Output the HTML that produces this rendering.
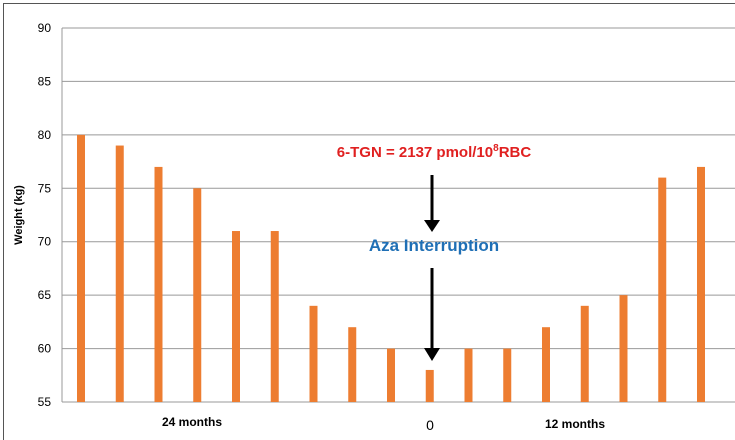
<!DOCTYPE html>
<html><head><meta charset="utf-8"><style>
body{margin:0;background:#fff;}
svg{display:block;font-family:"Liberation Sans",sans-serif;}
</style></head><body>
<svg id="c" width="735" height="440">
<rect x="3.5" y="3.5" width="740" height="440" fill="#fff" stroke="#555" stroke-width="1"/>
<g id="grid"></g><g id="bars"></g>
<text x="22" y="215" transform="rotate(-90 22 215)" text-anchor="middle" font-size="11" font-weight="bold">Weight (kg)</text>
<text x="192" y="426" text-anchor="middle" font-size="12" font-weight="bold">24 months</text>
<text x="430" y="430" text-anchor="middle" font-size="14">0</text>
<text x="575" y="428" text-anchor="middle" font-size="12" font-weight="bold">12 months</text>
<text x="434" y="157" text-anchor="middle" font-size="15" font-weight="bold" fill="#e02020">6-TGN = 2137 pmol/10<tspan font-size="10" dy="-6">8</tspan><tspan dy="6">RBC</tspan></text>
<text x="434" y="251" text-anchor="middle" font-size="17" font-weight="bold" fill="#1f6fb5">Aza Interruption</text>
<g><line x1="432" y1="175" x2="432" y2="222" stroke="#000" stroke-width="3"/><polygon points="424,220 440,220 432,232" fill="#000"/></g>
<g><line x1="432" y1="268" x2="432" y2="350" stroke="#000" stroke-width="3"/><polygon points="424,348 440,348 432,361" fill="#000"/></g>
</svg>
<script>
const yTicks=[55,60,65,70,75,80,85,90];
const values=[80,79,77,75,71,71,64,62,60,58,60,60,62,64,65,76,77];
const NS="http://www.w3.org/2000/svg";
const y=v=>402-(v-55)*(374/35);
const x=i=>81+i*38.75;
const grid=document.getElementById('grid'),bars=document.getElementById('bars');
yTicks.forEach(t=>{
 const l=document.createElementNS(NS,'line');
 l.setAttribute('x1',62);l.setAttribute('x2',735);l.setAttribute('y1',y(t));l.setAttribute('y2',y(t));
 l.setAttribute('stroke','#999');l.setAttribute('stroke-width','1');
 
 
 grid.appendChild(l);
 const tx=document.createElementNS(NS,'text');
 tx.setAttribute('x',51);tx.setAttribute('y',y(t)+4);tx.setAttribute('text-anchor','end');tx.setAttribute('font-size','12');
 tx.textContent=t;
 
 
 grid.appendChild(tx);
});
const ax=document.createElementNS(NS,'line');
ax.setAttribute('x1',62);ax.setAttribute('x2',62);ax.setAttribute('y1',28);ax.setAttribute('y2',402);ax.setAttribute('stroke','#999');


grid.appendChild(ax);
values.forEach((v,i)=>{
 const r=document.createElementNS(NS,'rect');
 r.setAttribute('x',x(i)-4);r.setAttribute('width',8);r.setAttribute('y',y(v));r.setAttribute('height',402-y(v));
 r.setAttribute('fill','#ed7d31');
 
 
 bars.appendChild(r);
});
</script>
</body></html>
